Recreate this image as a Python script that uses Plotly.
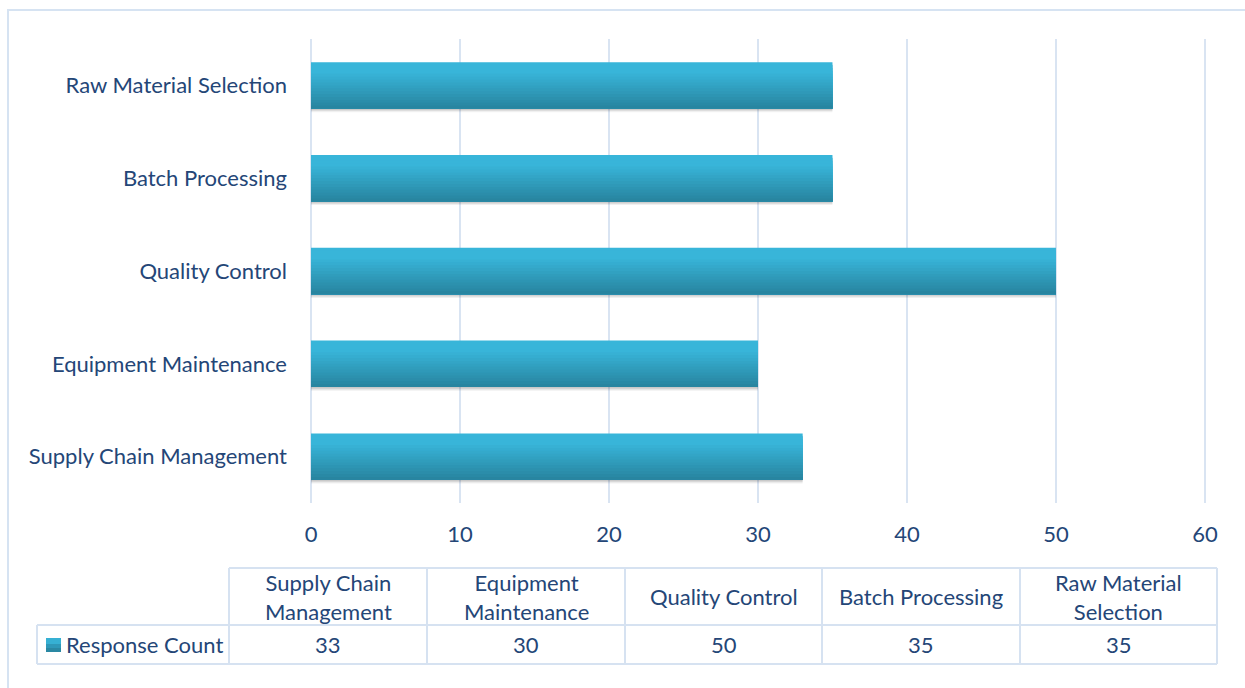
import plotly.graph_objects as go

# ---- data ----
categories = ["Supply Chain Management", "Equipment Maintenance", "Quality Control",
              "Batch Processing", "Raw Material Selection"]
values = [33, 30, 50, 35, 35]
table_headers = ["Supply Chain<br>Management", "Equipment<br>Maintenance", "Quality Control",
                 "Batch Processing", "Raw Material<br>Selection"]
series_name = "Response Count"
x_ticks = [0, 10, 20, 30, 40, 50, 60]

W, H = 1245, 688
FONT = "Lato"
FS = 22
TXT = "#244677"
GRID = "#d9e4f2"

def px(x):
    return x / W

def py(y):
    return 1 - y / H

fig = go.Figure()

# soft shadow
for off, a in [(-0.29, 0.06), (-0.277, 0.08), (-0.265, 0.09)]:
    fig.add_trace(go.Bar(y=categories, x=values, orientation="h", width=0.5, offset=off,
                         marker=dict(color="rgba(0,0,0,%.2f)" % a, line=dict(width=0)),
                         hoverinfo="skip", showlegend=False))

# gradient bars: nested bars shrinking from the top
top = (56, 181, 217)
bot = (40, 133, 160)
N = 16
bw = 0.5
sw = bw / N
for i in range(N):
    t = i / (N - 1)
    t2 = max(0.0, (t - 0.2) / 0.8)
    c = tuple(round(top[k] + (bot[k] - top[k]) * t2) for k in range(3))
    fig.add_trace(go.Bar(y=categories, x=values, orientation="h",
                         width=bw - i * sw, offset=-bw / 2,
                         marker=dict(color="rgb(%d,%d,%d)" % c, line=dict(width=0)),
                         name=series_name, showlegend=False))

fig.update_layout(
    width=W, height=H,
    autosize=False,
    barmode="overlay",
    paper_bgcolor="white", plot_bgcolor="white",
    margin=dict(l=0, r=0, t=0, b=0, pad=0, autoexpand=False),
    font=dict(family=FONT, color=TXT, size=FS),
    xaxis=dict(domain=[px(311), px(1210)], range=[0, 60.34], tickvals=x_ticks,
               showgrid=True, gridcolor=GRID, gridwidth=2, zeroline=True,
               zerolinecolor=GRID, zerolinewidth=2, showline=False, ticks="",
               automargin=False,
               ticklabelstandoff=16, tickfont=dict(size=FS, color=TXT), fixedrange=True),
    yaxis=dict(domain=[py(503), py(39)], categoryorder="array", categoryarray=categories,
               showgrid=False, zeroline=False, showline=False, ticks="",
               automargin=False,
               ticklabelstandoff=23, tickfont=dict(size=FS, color=TXT), fixedrange=True),
    showlegend=False,
)

shapes = []
annotations = []
# outer border
shapes.append(dict(type="rect", xref="paper", yref="paper", x0=px(8), x1=px(1260),
                   y0=py(700), y1=py(10), line=dict(color="#d6e3f2", width=2),
                   fillcolor="rgba(0,0,0,0)", layer="below"))

# table
edges = [37, 229, 427, 625, 822, 1020, 1217]
hy0, hy1, vy1 = 568, 625, 664
LC = "#d6e2f1"
line = dict(color=LC, width=2)
shapes.append(dict(type="line", xref="paper", yref="paper", x0=px(edges[1]), x1=px(edges[-1]),
                   y0=py(hy0), y1=py(hy0), line=line))
shapes.append(dict(type="line", xref="paper", yref="paper", x0=px(edges[0]), x1=px(edges[-1]),
                   y0=py(hy1), y1=py(hy1), line=line))
shapes.append(dict(type="line", xref="paper", yref="paper", x0=px(edges[0]), x1=px(edges[-1]),
                   y0=py(vy1), y1=py(vy1), line=line))
shapes.append(dict(type="line", xref="paper", yref="paper", x0=px(edges[0]), x1=px(edges[0]),
                   y0=py(hy1), y1=py(vy1), line=line))
for e in edges[1:]:
    shapes.append(dict(type="line", xref="paper", yref="paper", x0=px(e), x1=px(e),
                       y0=py(hy0), y1=py(vy1), line=line))

for j, (hdr, v) in enumerate(zip(table_headers, values)):
    cx = (edges[j + 1] + edges[j + 2]) / 2
    annotations.append(dict(xref="paper", yref="paper", x=px(cx), y=py((hy0 + hy1) / 2),
                            text=hdr, showarrow=False, xanchor="center", yanchor="middle",
                            align="center", font=dict(size=FS, color=TXT, family=FONT)))
    annotations.append(dict(xref="paper", yref="paper", x=px(cx), y=py((hy1 + vy1) / 2),
                            text=str(v), showarrow=False, xanchor="center", yanchor="middle",
                            font=dict(size=FS, color=TXT, family=FONT)))

# legend key (gradient swatch)
shapes.append(dict(type="rect", xref="paper", yref="paper", x0=px(46), x1=px(61),
                   y0=py(652), y1=py(638), line=dict(width=0), fillcolor="#36b0d3"))
shapes.append(dict(type="rect", xref="paper", yref="paper", x0=px(46), x1=px(61),
                   y0=py(652), y1=py(644), line=dict(width=0), fillcolor="#2e98b8"))
shapes.append(dict(type="rect", xref="paper", yref="paper", x0=px(46), x1=px(61),
                   y0=py(652), y1=py(648), line=dict(width=0), fillcolor="#2a88a3"))
annotations.append(dict(xref="paper", yref="paper", x=px(64), y=py((hy1 + vy1) / 2),
                        text=series_name, showarrow=False, xanchor="left", yanchor="middle",
                        font=dict(size=FS, color=TXT, family=FONT)))

fig.update_layout(shapes=shapes, annotations=annotations)
fig.write_html("out.html",
               config={"displayModeBar": False, "responsive": False},
               post_script="document.body.style.margin='0';document.body.style.overflow='hidden';")
